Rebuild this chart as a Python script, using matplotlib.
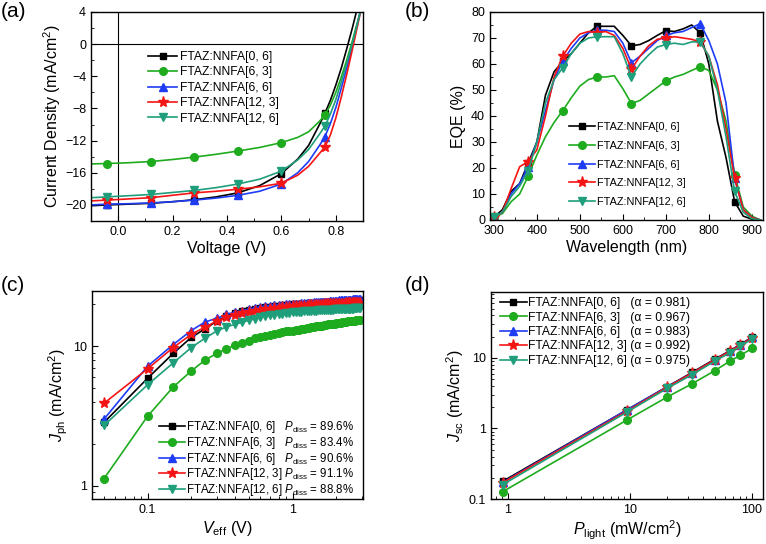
import matplotlib
matplotlib.use("Agg")
import matplotlib.pyplot as plt
from matplotlib.ticker import MultipleLocator, FuncFormatter, NullFormatter

plt.rcParams["font.family"] = ["Liberation Sans", "DejaVu Sans"]
plt.rcParams["mathtext.fontset"] = "custom"
plt.rcParams["mathtext.rm"] = "Liberation Sans"
plt.rcParams["mathtext.it"] = "Liberation Sans:italic"
plt.rcParams["axes.linewidth"] = 1.0

# series names / styles
names = ["FTAZ:NNFA[0, 6]", "FTAZ:NNFA[6, 3]", "FTAZ:NNFA[6, 6]",
         "FTAZ:NNFA[12, 3]", "FTAZ:NNFA[12, 6]"]
colors = ["#000000", "#1eab1e", "#1f3cf5", "#f51414", "#1e9e7a"]
markers = ["s", "o", "^", "*", "v"]
msizes = [5, 5.5, 6, 8, 6]

# (a) J-V
volt = [-0.1, -0.04, 0.04, 0.12, 0.2, 0.28, 0.36, 0.44, 0.52, 0.6, 0.66,
        0.7, 0.74, 0.76, 0.78, 0.8, 0.82, 0.84, 0.86, 0.88, 0.9]
jv_06 = [-20.1, -20.0, -19.9, -19.8, -19.6, -19.35, -19.0, -18.5, -17.6, -16.1, -14.3,
         -12.6, -10.0, -8.6, -7.0, -5.1, -3.0, -0.6, 1.9, 4.6, 7.0]
jv_63 = [-14.9, -14.85, -14.75, -14.6, -14.35, -14.05, -13.7, -13.3, -12.85, -12.25, -11.6,
         -10.9, -9.6, -8.8, -7.6, -6.0, -4.1, -2.0, 0.3, 2.8, 5.3]
jv_66 = [-20.0, -19.9, -19.85, -19.75, -19.6, -19.4, -19.15, -18.8, -18.3, -17.4, -16.0,
         -14.6, -12.6, -11.5, -9.9, -7.9, -5.5, -3.0, -0.3, 2.6, 5.5]
jv_123 = [-19.5, -19.4, -19.25, -19.1, -18.8, -18.5, -18.3, -18.05, -17.75, -17.3, -16.3,
          -15.2, -13.6, -12.8, -11.3, -9.2, -6.6, -3.8, -0.8, 2.3, 5.4]
jv_126 = [-19.1, -19.0, -18.85, -18.7, -18.45, -18.2, -17.85, -17.4, -16.8, -15.8, -14.4,
          -13.1, -11.2, -10.2, -8.7, -6.9, -4.7, -2.4, 0.0, 2.6, 5.3]
jv_marks = [1, 3, 5, 7, 9, 13]

# (b) EQE
wl = [300, 320, 340, 360, 380, 400, 420, 440, 460, 480, 500, 520, 540, 560, 580, 600,
      620, 640, 660, 680, 700, 720, 740, 760, 780, 800, 820, 840, 860, 880, 900, 920]
eqe_06 = [1, 4, 11, 14, 22, 30, 48, 57, 61, 64, 68, 72, 74.5, 74.5, 74.5, 71,
          67, 67.5, 69, 71, 72.8, 72.5, 73.5, 75, 72, 60, 38, 24, 7, 1.5, 0.3, 0]
eqe_63 = [1, 2.5, 7, 10, 17, 25, 32, 37.5, 42, 47, 51.5, 54, 55, 55, 55.5, 50.5,
          44.8, 46, 48.5, 51, 53.5, 55, 56, 57.5, 59, 57.5, 50, 38, 17.5, 5, 1.5, 0]
eqe_66 = [1, 3, 10, 14, 20.5, 30, 42, 54, 61, 66, 70, 72, 73, 73, 72.5, 68,
          60.5, 63, 66, 69, 71, 72, 72.5, 74, 75.5, 69, 60, 45, 16, 4, 1, 0]
eqe_123 = [1, 3, 12, 20.5, 22.5, 27, 40, 55, 63, 68, 71.5, 72.5, 72, 72.5, 71, 66,
           58, 63, 67, 69.5, 70, 70.5, 70, 69.5, 68.5, 63, 52, 35, 16, 4, 1, 0]
eqe_126 = [1, 3, 9, 13, 19, 30, 45, 54, 58.5, 64, 68, 70, 70.5, 70.5, 70.5, 64,
           55, 60, 63.5, 66.5, 67.5, 68, 67.5, 68.5, 68.5, 63, 50, 32, 11, 3, 0.5, 0]

# (c) Jph vs Veff
veff = [round(0.05 * i, 2) for i in range(1, 59)]
jph_06 = [2.84, 5.9, 8.9, 11.6, 13.4, 15.2, 16.6, 17.4, 17.9, 18.4, 18.7, 19.0, 19.2, 19.3, 19.5, 19.6, 19.7, 19.8, 19.9, 20.0,
          20.1, 20.1, 20.2, 20.3, 20.3, 20.4, 20.4, 20.5, 20.5, 20.6,
          20.6, 20.7, 20.7, 20.8, 20.8, 20.8, 20.9, 20.9, 20.9, 21.0,
          21.0, 21.1, 21.1, 21.1, 21.2, 21.2, 21.2, 21.2, 21.3, 21.3,
          21.3, 21.4, 21.4, 21.4, 21.5, 21.5, 21.5, 21.5]
jph_63 = [1.12, 3.15, 5.1, 6.65, 8.0, 8.9, 9.6, 10.2, 10.6, 11.0, 11.4, 11.7, 11.9, 12.1, 12.3, 12.5, 12.6, 12.8, 12.9, 13.0,
          13.1, 13.2, 13.3, 13.4, 13.5, 13.6, 13.7, 13.8, 13.9, 14.0,
          14.1, 14.1, 14.2, 14.3, 14.4, 14.4, 14.5, 14.6, 14.6, 14.7,
          14.7, 14.8, 14.8, 14.9, 14.9, 15.0, 15.0, 15.1, 15.1, 15.2,
          15.2, 15.3, 15.3, 15.3, 15.4, 15.4, 15.5, 15.5]
jph_66 = [3.0, 7.2, 10.3, 13.0, 15.0, 15.9, 17.0, 17.6, 18.1, 18.5, 18.9, 19.2, 19.4, 19.5, 19.7, 19.8, 19.9, 20.0, 20.1, 20.2,
          20.3, 20.3, 20.4, 20.5, 20.5, 20.6, 20.6, 20.7, 20.7, 20.8,
          20.8, 20.9, 20.9, 21.0, 21.0, 21.1, 21.1, 21.1, 21.2, 21.3,
          21.3, 21.4, 21.4, 21.5, 21.5, 21.5, 21.6, 21.6, 21.6, 21.7,
          21.7, 21.8, 21.8, 21.8, 21.9, 21.9, 22.0, 22.0]
jph_123 = [3.9, 6.9, 9.8, 12.2, 13.8, 15.2, 16.2, 16.8, 17.3, 17.7, 18.0, 18.3, 18.5, 18.7, 18.9, 19.0, 19.1, 19.2, 19.3, 19.4,
           19.4, 19.5, 19.5, 19.6, 19.6, 19.7, 19.7, 19.8, 19.8, 19.9,
           19.9, 19.9, 20.0, 20.0, 20.0, 20.1, 20.1, 20.1, 20.2, 20.2,
           20.2, 20.2, 20.3, 20.3, 20.3, 20.3, 20.4, 20.4, 20.4, 20.4,
           20.4, 20.5, 20.5, 20.5, 20.5, 20.5, 20.5, 20.5]
jph_126 = [2.7, 5.3, 7.6, 9.8, 11.5, 12.9, 13.8, 14.4, 14.9, 15.4, 15.8, 16.2, 16.5, 16.7, 16.9, 17.1, 17.2, 17.4, 17.5, 17.6,
           17.7, 17.8, 17.8, 17.9, 17.9, 18.0, 18.0, 18.1, 18.1, 18.2,
           18.2, 18.2, 18.3, 18.3, 18.3, 18.4, 18.4, 18.4, 18.5, 18.5,
           18.5, 18.5, 18.6, 18.6, 18.6, 18.6, 18.6, 18.7, 18.7, 18.7,
           18.7, 18.7, 18.8, 18.8, 18.8, 18.8, 18.8, 18.8]
pdiss = ["89.6%", "83.4%", "90.6%", "91.1%", "88.8%"]

# (d) Jsc vs Plight
plight = [0.91, 9.55, 20.2, 32.4, 49.6, 65.7, 80.3, 100]
jsc_06 = [0.178, 1.85, 3.9, 6.25, 9.6, 12.6, 15.5, 19.8]
jsc_63 = [0.127, 1.33, 2.79, 4.31, 6.6, 8.97, 10.9, 13.6]
jsc_66 = [0.172, 1.85, 3.9, 6.1, 9.4, 12.4, 15.3, 19.6]
jsc_123 = [0.17, 1.78, 3.85, 6.1, 9.4, 12.4, 15.2, 19.3]
jsc_126 = [0.16, 1.72, 3.7, 5.8, 9.0, 11.8, 14.6, 18.5]
alpha = ["0.981", "0.967", "0.983", "0.992", "0.975"]

W, H = 766, 544
fig = plt.figure(figsize=(W / 100, H / 100), dpi=100)


def add_axes(l, r, t, b):
    return fig.add_axes([l / W, 1 - b / H, (r - l) / W, (b - t) / H])


def style(ax):
    ax.tick_params(which="both", direction="in", labelsize=9, top=False, right=False)
    ax.tick_params(which="major", length=4)
    ax.tick_params(which="minor", length=2)


lw = 1.2
fmt = FuncFormatter(lambda v, p: "%g" % v)

# ---- (a)
ax = add_axes(91, 363, 12, 221)
ax.axhline(0, color="k", lw=0.8)
ax.axvline(0, color="k", lw=0.8)
for y, c, m, ms, n in zip([jv_06, jv_63, jv_66, jv_123, jv_126], colors, markers, msizes, names):
    ax.plot(volt, y, color=c, marker=m, ms=ms, lw=lw, markevery=jv_marks, label=n)
ax.set_xlim(-0.1, 0.9)
ax.set_ylim(-22, 4)
ax.xaxis.set_major_locator(MultipleLocator(0.2))
ax.xaxis.set_minor_locator(MultipleLocator(0.1))
ax.yaxis.set_major_locator(MultipleLocator(4))
ax.yaxis.set_minor_locator(MultipleLocator(2))
ax.xaxis.set_major_formatter(FuncFormatter(lambda v, p: "%.1f" % v))
style(ax)
ax.set_xlabel("Voltage (V)", fontsize=11.5, labelpad=2)
ax.set_ylabel("Current Density (mA/cm$^2$)", fontsize=11.5, labelpad=1)
ax.legend(loc="upper left", bbox_to_anchor=(0.21, 0.813), frameon=False, fontsize=8.7,
          handlelength=2.4, handletextpad=0.2, labelspacing=0.28, borderpad=0, borderaxespad=0)

# ---- (b)
ax = add_axes(490, 763, 12, 220)
for y, c, m, ms, n in zip([eqe_06, eqe_63, eqe_66, eqe_123, eqe_126], colors, markers, msizes, names):
    ax.plot(wl, y, color=c, marker=m, ms=ms, lw=lw, markevery=slice(0, None, 4), label=n)
ax.set_xlim(291, 926)
ax.set_ylim(0, 80)
ax.xaxis.set_major_locator(MultipleLocator(100))
ax.xaxis.set_minor_locator(MultipleLocator(50))
ax.yaxis.set_major_locator(MultipleLocator(10))
ax.yaxis.set_minor_locator(MultipleLocator(5))
style(ax)
ax.set_xlabel("Wavelength (nm)", fontsize=11.5, labelpad=2)
ax.set_ylabel("EQE (%)", fontsize=11.5, labelpad=4)
ax.legend(loc="upper left", bbox_to_anchor=(0.29, 0.47), frameon=False, fontsize=7.8,
          handlelength=2.4, handletextpad=0.2, labelspacing=0.8, borderpad=0, borderaxespad=0)

# ---- (c)
ax = add_axes(91.5, 363, 291, 499)
for y, c, m, ms, n, pd in zip([jph_06, jph_63, jph_66, jph_123, jph_126], colors, markers, msizes,
                              names, pdiss):
    sp = "   " if len(n) < 16 else " "
    ax.plot(veff, y, color=c, marker=m, ms=ms, lw=lw,
            label=n + sp + "$P_{\\rm diss}$ = " + pd)
ax.set_xscale("log")
ax.set_yscale("log")
ax.set_xlim(0.041, 3.06)
ax.set_ylim(0.8, 25)
ax.xaxis.set_major_formatter(fmt)
ax.yaxis.set_major_formatter(fmt)
ax.xaxis.set_minor_formatter(NullFormatter())
ax.yaxis.set_minor_formatter(NullFormatter())
style(ax)
ax.set_xlabel("$V_{\\rm eff}$ (V)", fontsize=11.5, labelpad=2)
ax.set_ylabel("$J_{\\rm ph}$ (mA/cm$^2$)", fontsize=11.5, labelpad=2)
ax.legend(loc="lower left", bbox_to_anchor=(0.25, 0.005), frameon=False, fontsize=8.3,
          handlelength=2.2, handletextpad=0.15, labelspacing=-0.03, borderpad=0, borderaxespad=0)

# ---- (d)
ax = add_axes(491, 763, 292, 499)
for y, c, m, ms, n, a in zip([jsc_06, jsc_63, jsc_66, jsc_123, jsc_126], colors, markers, msizes,
                             names, alpha):
    sp = "   " if len(n) < 16 else " "
    ax.plot(plight, y, color=c, marker=m, ms=ms, lw=lw,
            label=n + sp + "(\u03b1 = " + a + ")")
ax.set_xscale("log")
ax.set_yscale("log")
ax.set_xlim(0.73, 123)
ax.set_ylim(0.1, 86)
ax.xaxis.set_major_formatter(fmt)
ax.yaxis.set_major_formatter(fmt)
ax.xaxis.set_minor_formatter(NullFormatter())
ax.yaxis.set_minor_formatter(NullFormatter())
style(ax)
ax.set_xlabel("$P_{\\rm light}$ (mW/cm$^2$)", fontsize=11.5, labelpad=2)
ax.set_ylabel("$J_{\\rm sc}$ (mA/cm$^2$)", fontsize=11.5, labelpad=2)
ax.legend(loc="upper left", bbox_to_anchor=(0.033, 0.975), frameon=False, fontsize=8.7,
          handlelength=2.2, handletextpad=0.15, labelspacing=0.2, borderpad=0, borderaxespad=0)

for lab, x, y in [("(a)", 1, 2), ("(b)", 405, 2), ("(c)", 1, 276), ("(d)", 405, 276)]:
    fig.text(x / W, 1 - y / H, lab, fontsize=15, ha="left", va="top")

fig.savefig("out.png", dpi=100)
